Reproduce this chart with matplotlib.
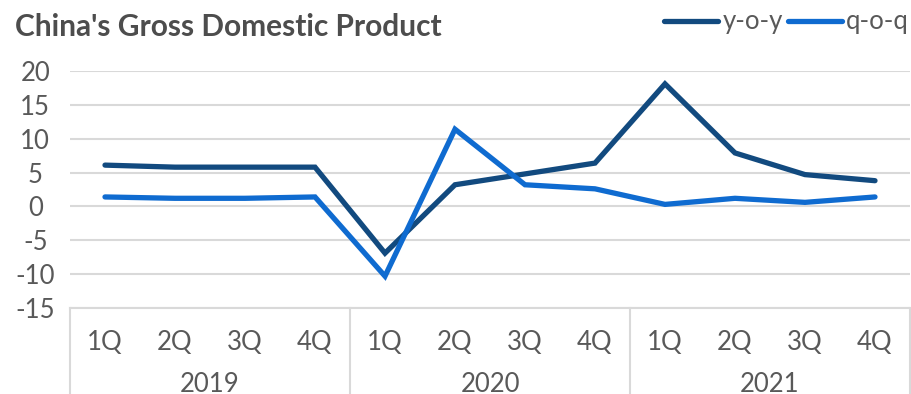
import matplotlib
matplotlib.use("Agg")
import matplotlib.pyplot as plt
import matplotlib.transforms as mtransforms

quarters = ["1Q", "2Q", "3Q", "4Q"]
years = ["2019", "2020", "2021"]
yoy = [6.1, 5.8, 5.8, 5.8, -6.9, 3.2, 4.8, 6.4, 18.1, 7.9, 4.7, 3.8]
qoq = [1.4, 1.2, 1.2, 1.4, -10.3, 11.4, 3.2, 2.6, 0.3, 1.2, 0.6, 1.4]
yticks = [-15, -10, -5, 0, 5, 10, 15, 20]

W, H = 911, 394
fig = plt.figure(figsize=(W / 100, H / 100), dpi=100)
plt.rcParams['font.family'] = ['Lato', 'DejaVu Sans']

left, right, top, bottom = 70, 910, 71, 308
ax = fig.add_axes([left / W, 1 - bottom / H, (right - left) / W, (bottom - top) / H])

n = len(yoy)
x = list(range(n))
c_yoy = "#124A7F"
c_qoq = "#0F6BD0"
ax.plot(x, yoy, color=c_yoy, lw=3.8, solid_capstyle="round", solid_joinstyle="miter", label="y-o-y", zorder=3)
ax.plot(x, qoq, color=c_qoq, lw=3.8, solid_capstyle="round", solid_joinstyle="miter", label="q-o-q", zorder=3)

fs = 18.5
ax.set_xlim(-0.5, n - 0.5)
ax.set_ylim(-15, 20)
ax.set_yticks(yticks)
ax.set_yticklabels([str(t) for t in yticks], fontsize=fs, color="#595959")
ax.tick_params(axis="y", length=0, pad=25)
for lab in ax.get_yticklabels():
    lab.set_horizontalalignment("center")
ax.tick_params(axis="x", length=0, labelbottom=False)
ax.grid(axis="y", color="#D9D9D9", lw=1.5)
ax.set_axisbelow(True)
for s in ["top", "right", "left"]:
    ax.spines[s].set_visible(False)
ax.spines["bottom"].set_color("#D9D9D9")
ax.spines["bottom"].set_linewidth(1.5)

trans = mtransforms.blended_transform_factory(ax.transData, ax.transAxes)
ax_h_px = bottom - top
def ypos(px):
    return -(px - bottom) / ax_h_px

# quarter labels
for i in range(n):
    ax.text(i, ypos(342), quarters[i % 4], transform=trans, ha="center", va="center",
            fontsize=fs, color="#595959")
# year labels
for j, yr in enumerate(years):
    ax.text(j * 4 + 1.5, ypos(384), yr, transform=trans, ha="center", va="center",
            fontsize=fs, color="#595959")
# separators
for b in range(len(years) + 1):
    xb = b * 4 - 0.5
    ax.plot([xb, xb], [0, ypos(H + 2)], transform=trans, color="#D9D9D9", lw=1.5, clip_on=False)

fig.text(15 / W, 1 - 27 / H, "China's Gross Domestic Product", fontsize=21.5, fontweight="bold",
         color="#4D4D4D", ha="left", va="center")

leg = fig.legend(loc="center right", bbox_to_anchor=(909 / W, 1 - 22 / H), ncol=2, frameon=False,
                 fontsize=fs, handlelength=2.1, handletextpad=0.17, columnspacing=0.2,
                 borderaxespad=0, borderpad=0)
for t in leg.get_texts():
    t.set_color("#595959")

fig.savefig("out.png", dpi=100)
